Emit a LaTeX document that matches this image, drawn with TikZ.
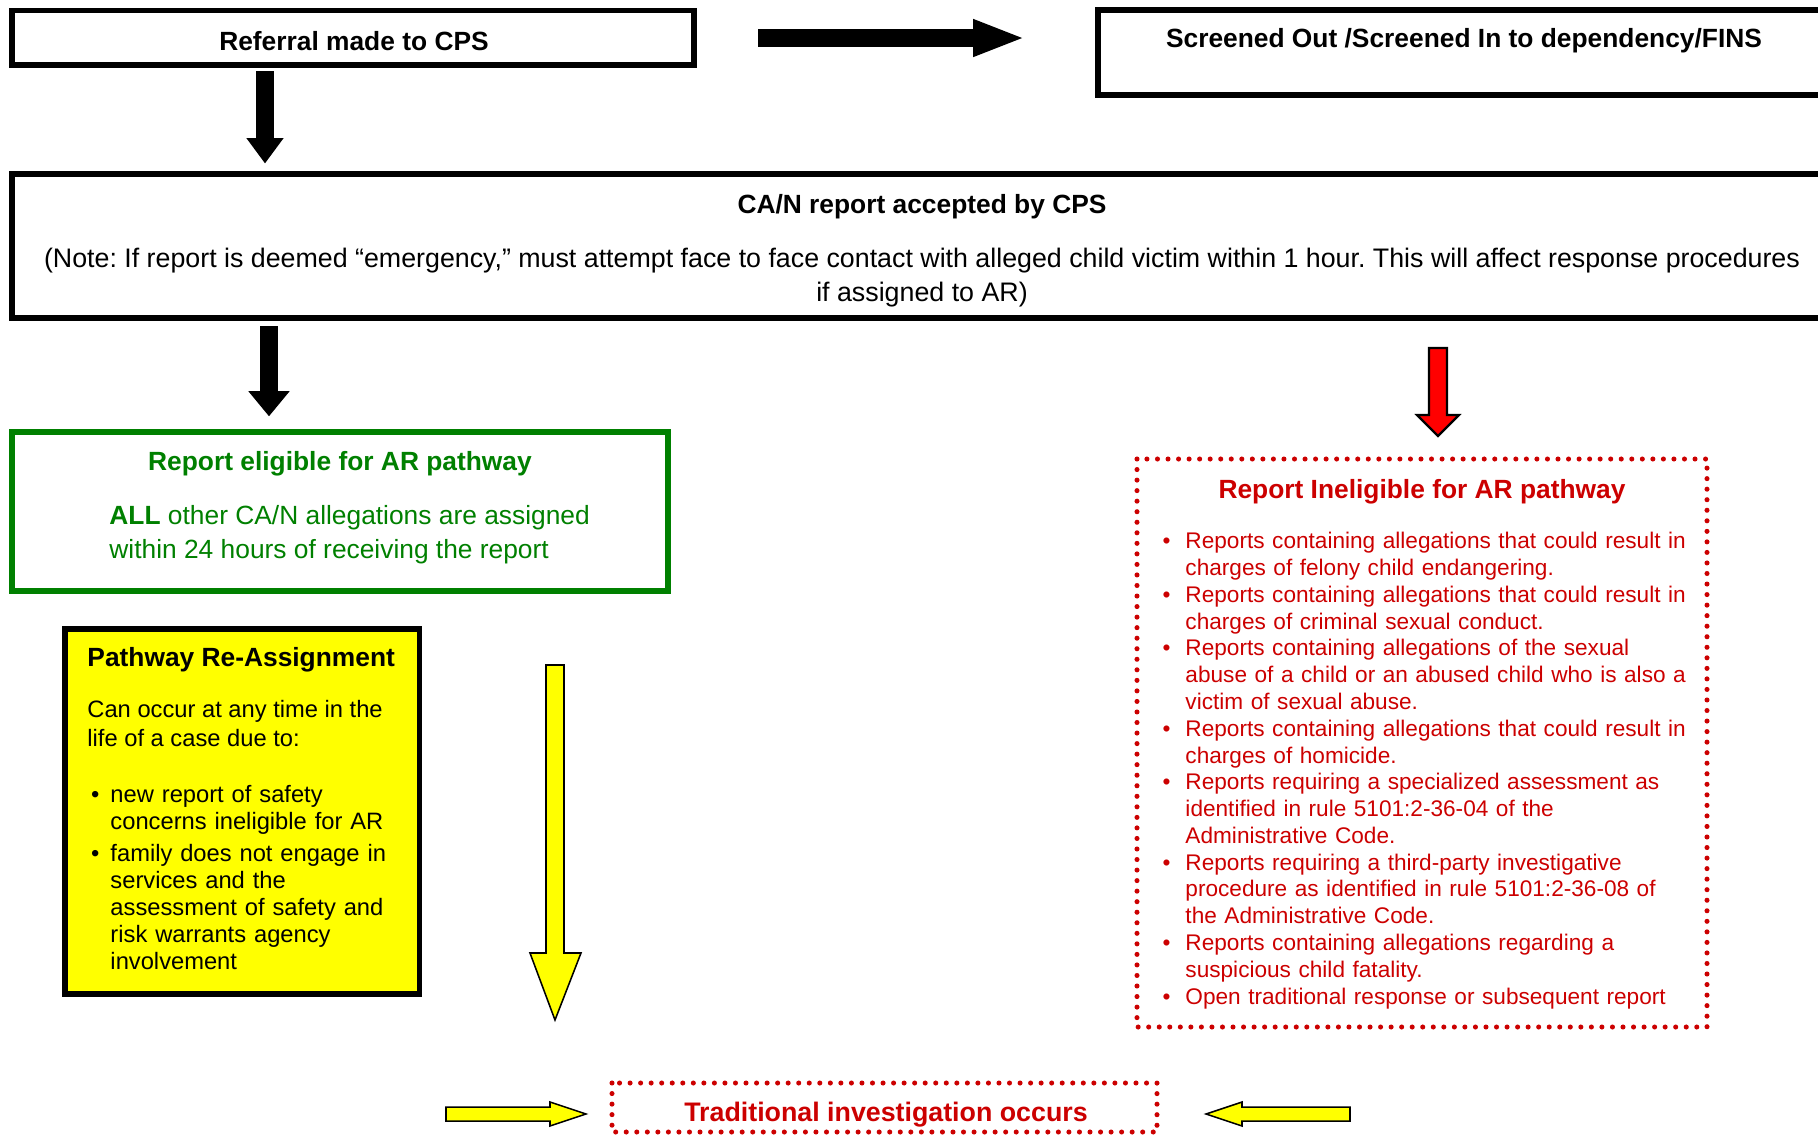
\documentclass[tikz,border=0pt]{standalone}
\usepackage{fontspec}
\setmainfont{Liberation Sans}
\usepackage{enumitem}
\frenchspacing
\definecolor{cpsgreen}{RGB}{0,128,0}
\definecolor{cpsred}{RGB}{204,0,0}
\definecolor{arrowred}{RGB}{255,0,0}
\definecolor{cpsyellow}{RGB}{255,255,0}

\begin{document}
\begin{tikzpicture}[x=0.016cm, y=-0.016cm,
  box/.style={line width=2.6pt},
  dotbox/.style={draw=cpsred, line width=2.3pt, line cap=round, dash pattern=on 0pt off 4.8pt},
  head/.style={font=\bfseries\fontsize{12}{14}\selectfont, inner sep=0pt},
  body/.style={font=\fontsize{12}{15.3}\selectfont, inner sep=0pt},
  redlist/.style={font=\fontsize{10.3}{12.2}\selectfont, text=cpsred, inner sep=0pt, text width=245pt, align=left},
  blockarrow/.style={draw=black, line width=0.7pt, line join=miter}]
  \useasboundingbox (0, 0) rectangle (1818, 1136);
  \clip (0, 0) rectangle (1818, 1136);

  \draw[box] (12, 10.5) rectangle (694, 65);
  \node[head] (referral) at (354, 41) {Referral made to CPS};
  \draw[box] (1098, 10) rectangle (1833, 95);
  \node[head] (screened) at (1464, 41) {Screened Out /Screened In to dependency/FINS};
  \draw[blockarrow, fill=black] (759, 30) -- (974, 30) -- (974, 20) -- (1020, 38) -- (974, 56) -- (974, 46) -- (759, 46) -- cycle;
  \draw[blockarrow, fill=black] (257, 72) -- (257, 139) -- (248, 139) -- (265, 162) -- (282, 139) -- (273, 139) -- (273, 72) -- cycle;

  \draw[box] (12, 174) rectangle (1832, 318);
  \node[head] (accepted) at (922, 206.5) {CA/N report accepted by CPS};
  \node[body, align=center, font=\fontsize{12.2}{15.5}\selectfont] (note) at (922, 277.5) {(Note: If report is deemed “emergency,” must attempt face to face contact with alleged child victim within 1 hour. This will affect response procedures\\ if assigned to AR)};

  \draw[blockarrow, fill=black] (261, 327) -- (261, 392) -- (250, 392) -- (269, 415) -- (288, 392) -- (277, 392) -- (277, 327) -- cycle;
  \draw[blockarrow, fill=arrowred, line width=1pt] (1429, 348) -- (1429, 415) -- (1417, 415) -- (1438, 436) -- (1459, 415) -- (1447, 415) -- (1447, 348) -- cycle;

  \draw[box, draw=cpsgreen, line width=2.4pt] (12, 432) rectangle (668, 591);
  \node[head, text=cpsgreen] (eligible) at (340, 463.5) {Report eligible for AR pathway};
  \node[body, text=cpsgreen, anchor=west, align=left] (eligibletext) at (109, 534.5) {\textbf{ALL} other CA/N allegations are assigned\\ within 24 hours of receiving the report};

  \draw[dotbox] (1137, 459) rectangle (1707, 1027);
  \node[head, text=cpsred] (ineligible) at (1422, 491.5) {Report Ineligible for AR pathway};
  \node[redlist, anchor=north west] (ineligiblelist) at (1160, 521.5) {%
    \begin{itemize}[leftmargin=11.4pt, labelsep=6.8pt, itemsep=0pt, topsep=0pt, parsep=0pt, partopsep=0pt]
      \item Reports containing allegations that could result in\\ charges of felony child endangering.
      \item Reports containing allegations that could result in\\ charges of criminal sexual conduct.
      \item Reports containing allegations of the sexual\\ abuse of a child or an abused child who is also a\\ victim of sexual abuse.
      \item Reports containing allegations that could result in\\ charges of homicide.
      \item Reports requiring a specialized assessment as\\ identified in rule 5101:2-36-04 of the\\ Administrative Code.
      \item Reports requiring a third-party investigative\\ procedure as identified in rule 5101:2-36-08 of\\ the Administrative Code.
      \item Reports containing allegations regarding a\\ suspicious child fatality.
      \item Open traditional response or subsequent report
    \end{itemize}};

  \draw[box, fill=cpsyellow, line width=2.7pt] (65, 629) rectangle (419.5, 994);
  \node[head, anchor=west] (reassign) at (87, 659.5) {Pathway Re-Assignment};
  \node[body, anchor=west, align=left, font=\fontsize{10.8}{13.2}\selectfont] (reassigntext) at (87, 723.5) {Can occur at any time in the\\ life of a case due to:};
  \node[body, anchor=north west, text width=160pt, align=left, font=\fontsize{10.8}{12.3}\selectfont] (reassignlist) at (87, 775.5) {%
    \begin{itemize}[leftmargin=10.5pt, labelsep=5pt, itemsep=2.2pt, topsep=0pt, parsep=0pt, partopsep=0pt]
      \item new report of safety\\ concerns ineligible for AR
      \item family does not engage in\\ services and the\\ assessment of safety and\\ risk warrants agency\\ involvement
    \end{itemize}};

  \draw[blockarrow, fill=cpsyellow] (546, 665) -- (546, 953) -- (530, 953) -- (555, 1020) -- (581, 953) -- (564, 953) -- (564, 665) -- cycle;

  \draw[dotbox] (612, 1083) rectangle (1157, 1132);
  \node[head, text=cpsred, font=\bfseries\fontsize{12.2}{14}\selectfont] (traditional) at (886, 1114.5) {Traditional investigation occurs};
  \draw[blockarrow, fill=cpsyellow] (446, 1107) -- (550, 1107) -- (550, 1102) -- (586, 1114) -- (550, 1126) -- (550, 1121) -- (446, 1121) -- cycle;
  \draw[blockarrow, fill=cpsyellow] (1350, 1107) -- (1242, 1107) -- (1242, 1102) -- (1206, 1114) -- (1242, 1126) -- (1242, 1121) -- (1350, 1121) -- cycle;
\end{tikzpicture}
\end{document}
